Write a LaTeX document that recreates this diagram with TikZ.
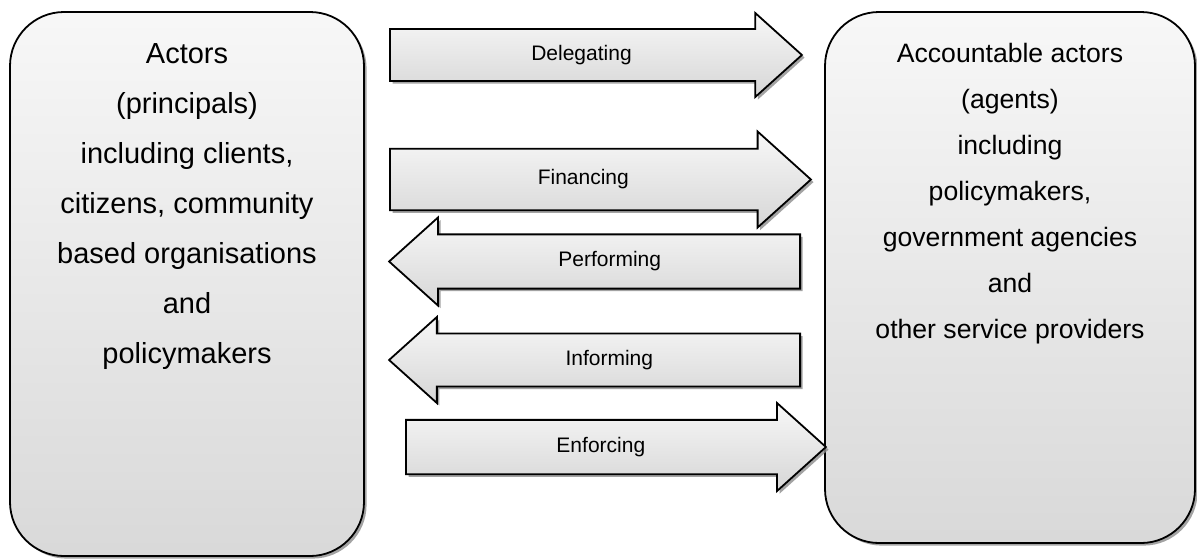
\documentclass[tikz,border=0pt]{standalone}
\usepackage{fontspec}
\setmainfont{Liberation Sans}
\usetikzlibrary{positioning,shapes.arrows,shadows}
\begin{document}
\begin{tikzpicture}[x=0.5pt,y=-0.5pt,
	actorbox/.style={draw,line width=0.9pt,rounded corners=27pt,top color=gray!6,bottom color=gray!30,
		drop shadow={shadow xshift=1.3pt,shadow yshift=-1.3pt,fill=black!45,opacity=0.8}},
	flowarrow/.style={single arrow,draw,line width=0.9pt,single arrow tip angle=84,single arrow head indent=0pt,
		top color=gray!6,bottom color=gray!32,font=\fontsize{10.5}{12}\selectfont,
		text height=7.5pt,text depth=2.5pt,inner ysep=6pt,minimum width=43pt,anchor=tail,
		drop shadow={shadow xshift=1.3pt,shadow yshift=-1.3pt,fill=black!45,opacity=0.8}},
	toleft/.style={shape border rotate=180}]
	\useasboundingbox (0,0) rectangle (1197,558);
	\node[actorbox,minimum width=177pt,minimum height=272pt] (actors) at (187,284) {};
	\node[actorbox,minimum width=185pt,minimum height=265.5pt] (agents) at (1010,277.5) {};
	\node[below=16pt of actors.north,inner sep=0pt,align=center,font=\fontsize{14.5}{25}\selectfont] (actorstext)
		{Actors\\(principals)\\including clients,\\citizens, community\\based organisations\\and\\policymakers};
	\node[below=15.8pt of agents.north,inner sep=0pt,align=center,font=\fontsize{13.3}{23}\selectfont] (agentstext)
		{Accountable actors\\(agents)\\including\\policymakers,\\government agencies\\and\\other service providers};
	\node[flowarrow,minimum height=206pt,minimum width=42pt] (delegating) at (389,55) {Delegating};
	\node[flowarrow,minimum height=210.5pt,minimum width=48pt,inner ysep=7.25pt] (financing) at (389,179.5) {Financing};
	\node[flowarrow,toleft,minimum height=205.5pt,minimum width=44pt] (performing) at (801,261.5) {Performing};
	\node[flowarrow,toleft,minimum height=205.5pt] (informing) at (801,360) {Informing};
	\node[flowarrow,minimum height=210pt,minimum width=44pt] (enforcing) at (405,447) {Enforcing};
\end{tikzpicture}
\end{document}
